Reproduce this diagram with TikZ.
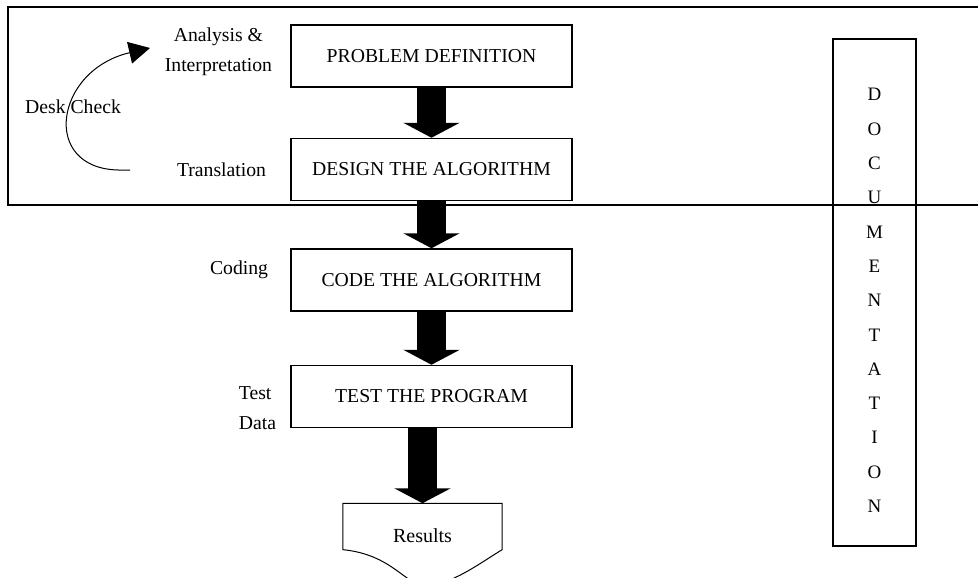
\documentclass[tikz,border=0pt]{standalone}
\usepackage{fontspec}
\setmainfont{Liberation Serif}
\usetikzlibrary{positioning,arrows.meta}
\tikzstyle{StepBox}=[rectangle, draw=black, line width=1.5pt, minimum width=281pt, minimum height=62pt, inner sep=0pt, font=\fontsize{19.7}{22}\selectfont]
\tikzstyle{SideLabel}=[inner sep=0pt, align=center, font=\fontsize{19.7}{30}\selectfont]
\tikzstyle{ResultsBox}=[rectangle, minimum width=159pt, minimum height=46pt, inner sep=0pt]
\tikzstyle{DocBox}=[rectangle, draw=black, line width=1.5pt, minimum width=83pt, minimum height=507pt]
\tikzstyle{DocLetters}=[align=center, inner sep=0pt, font=\fontsize{19}{34.3}\selectfont]
\tikzstyle{BlockArrow}=[-{Triangle[width=56pt, length=15pt]}, line width=29pt]
\tikzstyle{DeskLine}=[-{Triangle[width=22pt, length=21pt]}, line width=1pt]
\tikzstyle{FrameLine}=[line width=1.5pt]

\begin{document}
\begin{tikzpicture}[x=1pt, y=-1pt]
			\useasboundingbox (0,0) rectangle (978,578);

			%Nodos
			\node[StepBox]		(problem)	at (431.5,56)			{PROBLEM DEFINITION};
			\node[StepBox]		(design)	[below=50pt of problem]	{DESIGN THE ALGORITHM};
			\node[StepBox]		(code)		[below=47pt of design]	{CODE THE ALGORITHM};
			\node[StepBox]		(test)		[below=53pt of code]	{TEST THE PROGRAM};
			\node[ResultsBox]	(results)	[below=75pt of test, xshift=-9pt]	{};
			\node				(results_txt)	at ([yshift=-9pt]results.center)	{\fontsize{20}{22}\selectfont Results};

			\node[SideLabel]	(interp)	[left=18pt of problem, yshift=4pt]	{Analysis \&\\Interpretation};
			\node[SideLabel]	(trans)		[left=24pt of design]	{Translation};
			\node[SideLabel]	(coding)	[left=22pt of code, yshift=10pt]	{Coding};
			\node[SideLabel, align=left]	(testdata)	[left=14pt of test, yshift=-12pt]	{Test\\Data};
			\node[SideLabel]	(desk)		at (73,107)			{Desk Check};

			\node[DocBox]		(docbox)	at (874.5,292.5)		{};
			\node[DocLetters]	(doctext)	at ([yshift=-8pt]docbox.center)	{D\\O\\C\\U\\M\\E\\N\\T\\A\\T\\I\\O\\N};

			\coordinate (dc_start)	at (130,170);
			\coordinate (dc_end)	at (150,48);

			%Marco
			\draw[FrameLine] (978,7) -| (8,205) -- (978,205);

			%Resultado
			\draw[line width=1pt] (results.south west) -- (results.north west) -- (results.north east) -- (results.south east)
				.. controls +(-20,12) and +(25,0) .. ([xshift=3pt, yshift=-36pt]results.south)
				.. controls +(-20,0) and +(50,5) .. cycle;

			%Lineas
			\draw[BlockArrow] (problem.south) -- (design.north);
			\draw[BlockArrow] (design.south) -- (code.north);
			\draw[BlockArrow] (code.south) -- (test.north);
			\draw[BlockArrow] (test.south -| results.north) -- (results.north);
			\draw[DeskLine] (dc_start) -- (118,170) .. controls (40,168) and (55,70) .. (dc_end);

		\end{tikzpicture}
\end{document}
